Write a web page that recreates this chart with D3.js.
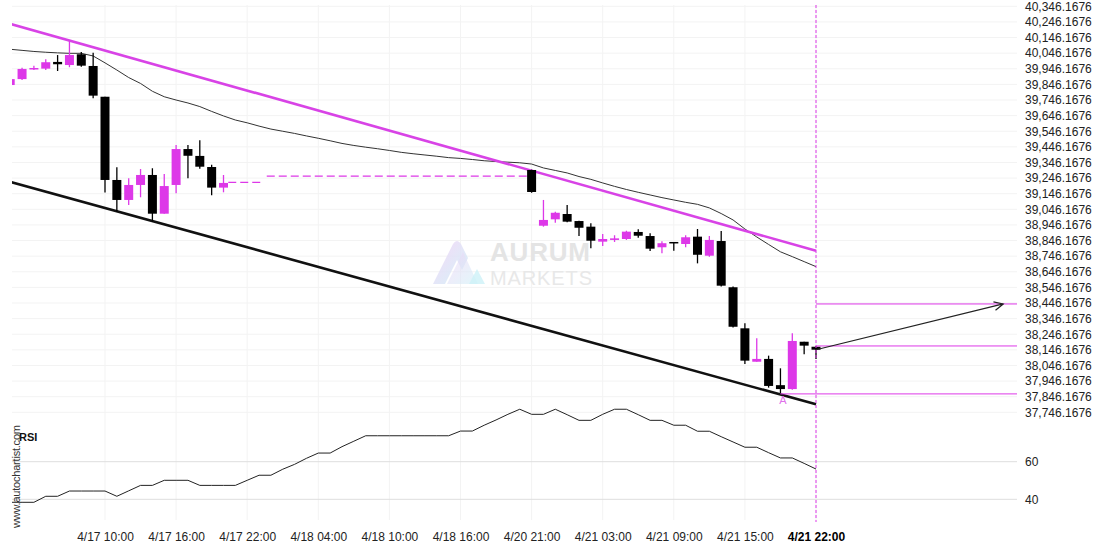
<!DOCTYPE html>
<html>
<head>
<meta charset="utf-8">
<script src="https://cdn.jsdelivr.net/npm/d3@7"></script>
<style>
	body { margin: 0; background: #fff; }
	svg text { font-family: 'Liberation Sans', Arial, sans-serif; }
</style>
</head>
<body>
<svg id="chart" width="1110" height="550"></svg>
<script>
// bars that have a candle (the feed has a hole between 4/17 evening and 4/20 21:00)
const candleBars = [0, 1, 2, 3, 4, 5, 6, 7, 8, 9, 10, 11, 12, 13, 14, 15, 16, 17, 18,
	44, 45, 46, 47, 48, 49, 50, 51, 52, 53, 54, 55, 56, 57, 58, 59, 60, 61, 62, 63, 64, 65, 66, 67, 68]
const opens = [39842, 39880, 39947, 39947, 39990, 39970, 40039, 39964, 39767, 39234, 39106, 39202, 39266, 39018, 39202, 39432, 39388, 39317, 39185,
	39298, 38941, 38982, 39016, 38971, 38935, 38839, 38850, 38856, 38901, 38875, 38803, 38837, 38824, 38871, 38749, 38843, 38547, 38284, 38070, 38088, 37920, 37895, 38198, 38166]
const highs = [39885, 39953, 39966, 40007, 40034, 40126, 40054, 40049, 39767, 39315, 39245, 39304, 39309, 39272, 39458, 39458, 39488, 39332, 39266,
	39300, 39106, 39031, 39074, 38973, 38957, 38888, 38880, 38909, 38918, 38893, 38841, 38837, 38880, 38920, 38875, 38907, 38551, 38316, 38220, 38109, 38028, 38252, 38198, 38171]
const lows = [39836, 39874, 39938, 39938, 39932, 39956, 39959, 39757, 39153, 39031, 39074, 39123, 38967, 39018, 39149, 39245, 39306, 39136, 39155,
	39152, 38935, 38960, 38963, 38875, 38796, 38811, 38837, 38850, 38864, 38779, 38764, 38781, 38803, 38700, 38743, 38551, 38290, 38056, 38070, 37904, 37868, 37891, 38118, 38088]
const closes = [39880, 39945, 39951, 39988, 39975, 40034, 39966, 39774, 39234, 39106, 39202, 39266, 39018, 39195, 39432, 39389, 39319, 39185, 39215,
	39157, 38978, 39024, 38967, 38928, 38845, 38856, 38860, 38903, 38877, 38794, 38829, 38828, 38867, 38755, 38850, 38557, 38294, 38077, 38088, 37915, 37895, 38203, 38173, 38147]

// moving average, one value per bar 0..68
const maValues = [40071, 40064, 40057, 40052, 40048, 40045, 40045, 40028, 39984, 39938,
	39890, 39852, 39802, 39767, 39746, 39727, 39704, 39673, 39644, 39618,
	39600, 39579, 39560, 39546, 39532, 39516, 39501, 39485, 39468, 39455,
	39444, 39434, 39423, 39411, 39402, 39394, 39386, 39377, 39372, 39365,
	39357, 39352, 39348, 39344, 39336, 39311, 39295, 39279, 39256, 39238,
	39215, 39193, 39173, 39155, 39138, 39121, 39106, 39091, 39078, 39055,
	39019, 38978, 38920, 38869, 38821, 38774, 38743, 38711, 38679]

// RSI, one value per bar 0..68
const rsiValues = [38.4, 38.4, 38.4, 41.6, 41.6, 44.4, 44.4, 44.4, 44.4, 41.6,
	44.5, 47.4, 47.4, 50.1, 50.1, 50.1, 47.4, 47.4, 47.4, 47.4,
	50.1, 52.8, 52.8, 56.0, 58.6, 61.8, 64.6, 64.6, 68.0, 70.9,
	73.8, 73.8, 73.8, 73.8, 73.8, 73.8, 73.8, 73.8, 76.3, 76.3,
	79.4, 82.2, 85.2, 87.9, 85.2, 85.2, 87.9, 85.0, 82.0, 82.0,
	85.2, 87.9, 87.9, 85.0, 82.0, 82.0, 79.4, 79.4, 76.2, 76.2,
	73.3, 70.5, 67.7, 67.7, 64.8, 62.0, 62.0, 59.1, 56.1]

const timeTickBars = [8, 14, 20, 26, 32, 38, 44, 50, 56, 62, 68]
const timeTickLabels = ['4/17 10:00', '4/17 16:00', '4/17 22:00', '4/18 04:00', '4/18 10:00', '4/18 16:00',
	'4/20 21:00', '4/21 03:00', '4/21 09:00', '4/21 15:00', '4/21 22:00']
const priceTicks = d3.range(27).map((k) => 37746.1676 + k * 100)
const rsiTicks = [40, 60]

// pattern: channel lines [bar, price] pairs
const resistanceLine = [[0, 40234], [68, 38781]]
const supportLine = [[0, 39222], [68, 37797]]
// dashed level segments [fromBar, toBar, price]
const dashedLevels = [[18.4, 21.3, 39219], [21.65, 43.7, 39259]]
// horizontal levels [fromBar, price]
const levels = [[68, 38440], [68, 38171], [65, 37864]]
const forecastArrow = [[68, 38147], [83.8, 38440]]
const lastBar = 68
const markerBar = 65
const rightBar = 85

const magenta = '#dd38e8'
const plotLeft = 12
const plotRight = 1017

const svg = d3.select('#chart')

const x = d3.scaleLinear().domain([0, 68]).range([10.2, 816])
const y = d3.scaleLinear().domain([37746.1676, 40346.1676]).range([412.3, 6.3])
const yRsi = d3.scaleLinear().domain([40, 60]).range([499.3, 461.7])

svg.append('defs').append('clipPath')
		.attr('id', 'plot-clip')
	.append('rect')
		.attr('x', plotLeft)
		.attr('y', 0)
		.attr('width', plotRight - plotLeft)
		.attr('height', 530)

// grid
const grid = svg.append('g').attr('class', 'grid')
grid.selectAll('.hgrid')
	.data(priceTicks)
	.enter().append('line')
		.attr('x1', plotLeft)
		.attr('x2', plotRight)
		.attr('y1', (d) => y(d))
		.attr('y2', (d) => y(d))
		.attr('stroke', '#f3f3f3')
grid.selectAll('.vgrid')
	.data(timeTickBars)
	.enter().append('line')
		.attr('x1', (d) => x(d))
		.attr('x2', (d) => x(d))
		.attr('y1', 5)
		.attr('y2', 520)
		.attr('stroke', '#f3f3f3')
grid.selectAll('.rgrid')
	.data(rsiTicks)
	.enter().append('line')
		.attr('x1', plotLeft)
		.attr('x2', plotRight)
		.attr('y1', (d) => yRsi(d))
		.attr('y2', (d) => yRsi(d))
		.attr('stroke', '#dedede')

// watermark
const wm = svg.append('g').attr('class', 'watermark')
const grad = svg.select('defs').append('linearGradient')
	.attr('id', 'wm-grad')
	.attr('x1', '0%').attr('y1', '0%').attr('x2', '100%').attr('y2', '100%')
grad.append('stop').attr('offset', '0%').attr('stop-color', '#f4d2f6')
grad.append('stop').attr('offset', '100%').attr('stop-color', '#cdf1f7')
wm.append('path')
	.attr('d', 'M433,284 L453,244 Q457,238 461,244 L468,258 L462,270 L457,260 L445,284 Z')
	.attr('fill', 'url(#wm-grad)')
	.attr('opacity', 0.85)
wm.append('path')
	.attr('d', 'M447,284 L463,252 L478,284 Z')
	.attr('fill', 'url(#wm-grad)')
	.attr('opacity', 0.6)
wm.append('path')
	.attr('d', 'M469,284 L477,269 L485,284 Z')
	.attr('fill', '#cdf1f7')
	.attr('opacity', 0.8)
wm.append('text')
	.attr('x', 490)
	.attr('y', 261)
	.attr('font-size', 26)
	.attr('font-weight', 'bold')
	.attr('fill', '#e4e4e4')
	.attr('textLength', 100)
	.text('AURUM')
wm.append('text')
	.attr('x', 490)
	.attr('y', 285)
	.attr('font-size', 20)
	.attr('fill', '#e8e8e8')
	.attr('textLength', 102)
	.text('MARKETS')

const plot = svg.append('g').attr('clip-path', 'url(#plot-clip)')

// moving average
plot.append('path')
	.datum(maValues)
	.attr('fill', 'none')
	.attr('stroke', '#333')
	.attr('stroke-width', 1)
	.attr('d', d3.line().x((d, i) => x(i)).y((d) => y(d)))

// dashed previous levels
plot.selectAll('.dash-level')
	.data(dashedLevels)
	.enter().append('line')
		.attr('x1', (d) => x(d[0]))
		.attr('x2', (d) => x(d[1]))
		.attr('y1', (d) => y(d[2]))
		.attr('y2', (d) => y(d[2]))
		.attr('stroke', magenta)
		.attr('stroke-width', 1.3)
		.attr('stroke-dasharray', '8,4')

// channel
const channel = d3.line().x((d) => x(d[0])).y((d) => y(d[1]))
plot.append('path')
	.datum(resistanceLine)
	.attr('d', channel)
	.attr('stroke', '#d843e6')
	.attr('stroke-width', 2.6)
	.attr('fill', 'none')
plot.append('path')
	.datum(supportLine)
	.attr('d', channel)
	.attr('stroke', '#111')
	.attr('stroke-width', 2.6)
	.attr('fill', 'none')

// candles
const candles = candleBars.map((bar, k) => ({
	bar: bar, o: opens[k], h: highs[k], l: lows[k], c: closes[k]
}))
const candle = plot.selectAll('.candle')
	.data(candles)
	.enter().append('g')
		.attr('class', 'candle')
const candleColor = (d) => (d.c >= d.o) ? magenta : '#000'
candle.append('line')
	.attr('x1', (d) => x(d.bar))
	.attr('x2', (d) => x(d.bar))
	.attr('y1', (d) => y(d.h))
	.attr('y2', (d) => y(d.l))
	.attr('stroke', candleColor)
	.attr('stroke-width', 1.3)
candle.append('rect')
	.attr('x', (d) => x(d.bar) - 4.5)
	.attr('width', 9)
	.attr('y', (d) => y(Math.max(d.o, d.c)))
	.attr('height', (d) => Math.max(1.5, Math.abs(y(d.o) - y(d.c))))
	.attr('fill', candleColor)

// levels
plot.selectAll('.level')
	.data(levels)
	.enter().append('line')
		.attr('x1', (d) => x(d[0]))
		.attr('x2', x(rightBar))
		.attr('y1', (d) => y(d[1]))
		.attr('y2', (d) => y(d[1]))
		.attr('stroke', magenta)
		.attr('stroke-width', 1)

// forecast arrow
const a0 = [x(forecastArrow[0][0]), y(forecastArrow[0][1])]
const a1 = [x(forecastArrow[1][0]), y(forecastArrow[1][1])]
const ang = Math.atan2(a1[1] - a0[1], a1[0] - a0[0])
const head = 10
plot.append('path')
	.attr('d', 'M' + a0 + 'L' + a1 +
		'M' + [a1[0] - head * Math.cos(ang - 0.45), a1[1] - head * Math.sin(ang - 0.45)] +
		'L' + a1 +
		'L' + [a1[0] - head * Math.cos(ang + 0.45), a1[1] - head * Math.sin(ang + 0.45)])
	.attr('fill', 'none')
	.attr('stroke', '#222')
	.attr('stroke-width', 1.2)

// marker under the low
const mk = candles.find((d) => d.bar === markerBar)
plot.append('text')
	.attr('x', x(markerBar) + 2.5)
	.attr('y', y(mk.l) + 11)
	.attr('text-anchor', 'middle')
	.attr('font-size', 11)
	.attr('fill', '#e070ea')
	.text('A')

// rsi
plot.append('path')
	.datum(rsiValues)
	.attr('fill', 'none')
	.attr('stroke', '#222')
	.attr('stroke-width', 1)
	.attr('d', d3.line().x((d, i) => x(i)).y((d) => yRsi(d)))

// current bar marker
svg.append('line')
	.attr('x1', x(lastBar))
	.attr('x2', x(lastBar))
	.attr('y1', 5)
	.attr('y2', 522)
	.attr('stroke', magenta)
	.attr('stroke-width', 1)
	.attr('stroke-dasharray', '3,2')

// axes
const priceAxis = svg.append('g')
	.attr('transform', 'translate(' + plotRight + ',0)')
	.call(d3.axisRight(y).tickValues(priceTicks).tickFormat(d3.format(',.4f')).tickSize(0).tickPadding(8))
const rsiAxis = svg.append('g')
	.attr('transform', 'translate(' + plotRight + ',0)')
	.call(d3.axisRight(yRsi).tickValues(rsiTicks).tickSize(0).tickPadding(8))
const timeAxis = svg.append('g')
	.attr('transform', 'translate(0,529)')
	.call(d3.axisBottom(x).tickValues(timeTickBars).tickFormat((d, i) => timeTickLabels[i]).tickSize(0).tickPadding(3))
svg.selectAll('.domain').remove()
svg.selectAll('.tick text')
	.attr('font-family', '\'Liberation Sans\', Arial, sans-serif')
	.attr('font-size', 12)
	.attr('fill', '#222')
timeAxis.selectAll('.tick text')
	.attr('font-weight', (d) => d === lastBar ? 'bold' : 'normal')
	.attr('fill', (d) => d === lastBar ? '#000' : '#222')

// labels
svg.append('text')
	.attr('x', 19)
	.attr('y', 441)
	.attr('font-size', 11)
	.attr('font-weight', 'bold')
	.attr('fill', '#111')
	.text('RSI')
svg.append('text')
	.attr('transform', 'translate(20,528) rotate(-90)')
	.attr('font-size', 11)
	.attr('fill', '#333')
	.attr('textLength', 103)
	.text('www.autochartist.com')
</script>
</body>
</html>
